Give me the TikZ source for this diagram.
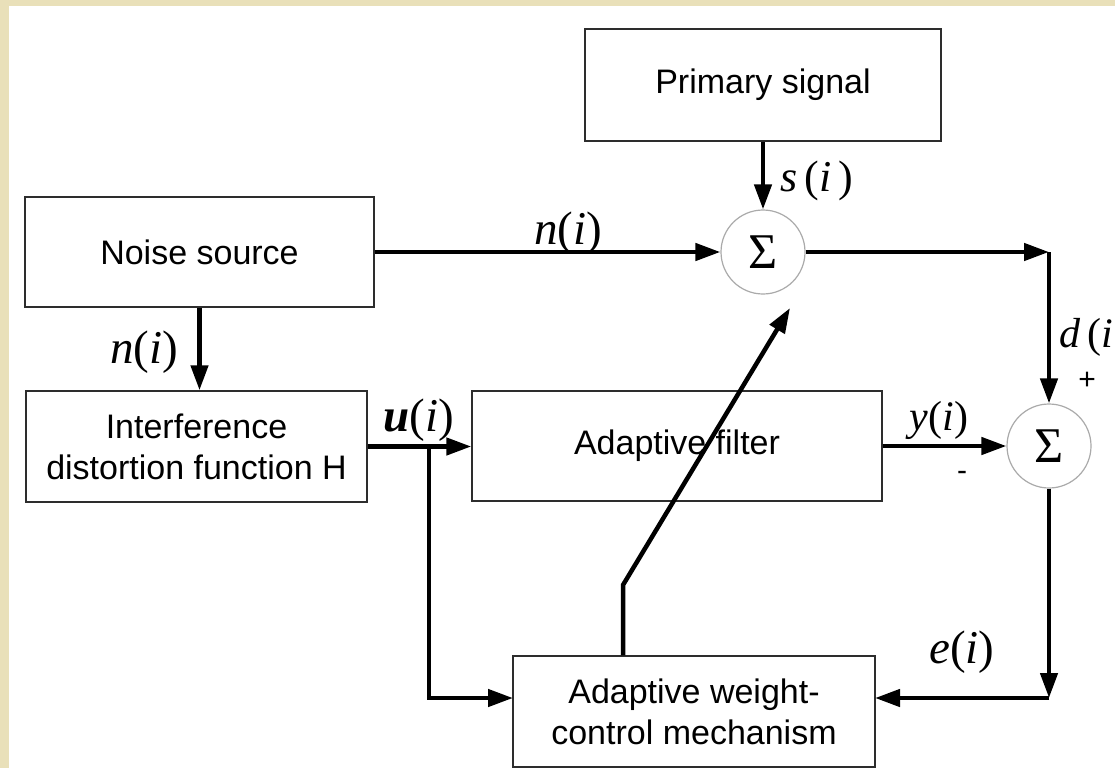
\documentclass[tikz,border=0pt]{standalone}
\usepackage{fontspec}
\setmainfont{Liberation Sans}
\newfontfamily\tms{Liberation Serif}
\usetikzlibrary{arrows.meta}
\definecolor{paper}{RGB}{233,224,185}
\definecolor{boxline}{RGB}{45,45,45}
\definecolor{ringline}{RGB}{170,170,170}
\newcommand{\sig}[3]{{\tms\fontsize{#1}{#1}\selectfont #2(\textit{#3})}}
\begin{document}
\begin{tikzpicture}[x=1pt,y=-1pt,
  blk/.style={draw=boxline, line width=1.4pt, fill=white, inner sep=0pt,
    align=center, font=\fontsize{34}{41}\selectfont},
  sumnode/.style={circle, draw=ringline, line width=1.2pt, fill=white,
    minimum size=84pt, inner sep=0pt, font=\tms\fontsize{50}{50}\selectfont},
  wire/.style={line width=4.5pt, line cap=butt},
  flow/.style={wire, -{Triangle[length=25pt,width=17pt]}},
  lbl/.style={inner sep=0pt},
  sgn/.style={inner sep=0pt, font=\fontsize{30}{30}\selectfont}
]
% paper edge and white sheet
\fill[paper] (0,0) rectangle (1115,768);
\fill[white] (9,6) rectangle (1115,768);
\useasboundingbox (0,0) rectangle (1115,768);

% blocks
\node[blk, minimum width=356pt, minimum height=112pt] (prim) at (763,85) {Primary signal};
\node[blk, minimum width=349pt, minimum height=110pt] (noise) at (199.5,252) {Noise source};
\node[blk, minimum width=341pt, minimum height=111pt] (interf) at (196.5,446.5) {Interference\\distortion function H};
\node[blk, minimum width=410pt, minimum height=110pt] (filt) at (677,446) {Adaptive filter};
\node[blk, minimum width=362pt, minimum height=111pt] (wgt) at (694,711.5) {Adaptive weight-\\control mechanism};

% summing junctions
\node[sumnode] (s1) at (763,252) {Σ};
\node[sumnode] (s2) at (1049,446) {Σ};

% routing points
\coordinate (c1) at (1049,252);
\coordinate (c2) at (1049,698);
\coordinate (b) at (429,446.5);
\coordinate (win) at (513,698);
\coordinate (ein) at (875,698);
\coordinate (bend) at (623,585);
\coordinate (tip) at (790,308);

% connectors
\draw[flow] (noise.east) -- (s1.west);
\draw[flow] (prim.south) -- (s1.north);
\draw[flow] (s1.east) -- (c1);
\draw[flow] (c1) -- (s2.north);
\draw[flow] (noise.south) -- (noise.south |- interf.north);
\draw[flow] (interf.east) -- (interf.east -| filt.west);
\draw[flow] (b) |- (win);
\draw[flow] (filt.east) -- (s2.west);
\draw[flow] (s2.south) -- (c2);
\draw[flow] (c2) -- (ein);
\draw[flow] (wgt.north -| bend) -- (bend) -- (tip);

% signal labels
\node[lbl] (ln1) at (568,233) {\sig{47}{\textit{n}}{i}};
\node[lbl, anchor=west] (ls) at (780,181) {\sig{44}{\textit{s}\,}{i\,}};
\node[lbl] (ln2) at (144,352) {\sig{47}{\textit{n}}{i}};
\node[lbl] (lu) at (419,420) {\sig{47}{\textbf{\textit{u}}}{i}};
\node[lbl] (ly) at (939,420) {\sig{42}{\textit{y}}{i}};
\node[lbl, anchor=west] (ld) at (1059,337) {\sig{42}{\textit{d}\,}{i\,}};
\node[lbl] (le) at (962,652) {\sig{47}{\textit{e}}{i}};
\node[sgn] (plus) at (1087,381) {+};
\node[sgn] (minus) at (962,476) {-};
\end{tikzpicture}
\end{document}
